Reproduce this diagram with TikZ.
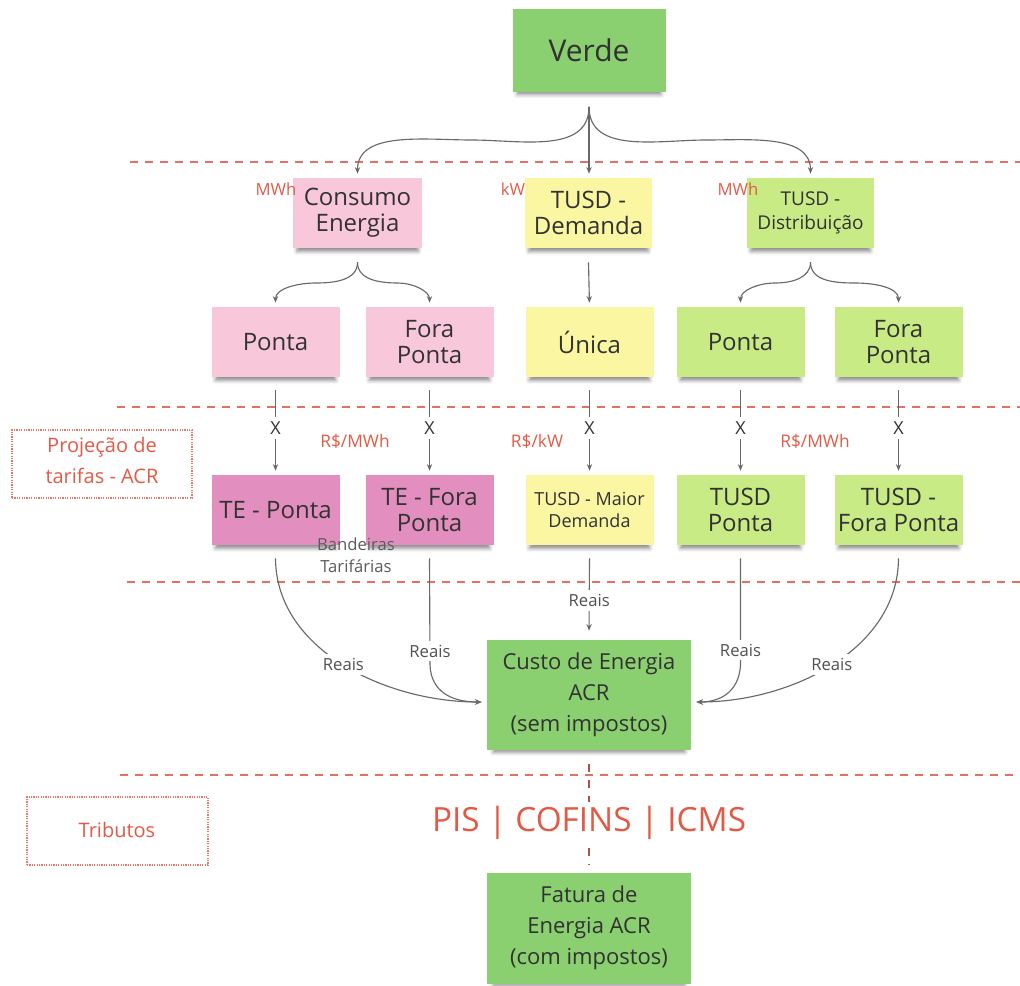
\documentclass[tikz,border=0pt]{standalone}
\usepackage{fontspec}
\setmainfont{Open Sans}
\usetikzlibrary{arrows.meta,shadows.blur,calc}

\definecolor{notegreen}{RGB}{138,207,112}
\definecolor{notepink}{RGB}{249,199,218}
\definecolor{notemagenta}{RGB}{226,142,190}
\definecolor{noteyellow}{RGB}{251,246,162}
\definecolor{notelime}{RGB}{200,235,134}
\definecolor{ink}{RGB}{50,50,50}
\definecolor{linegray}{RGB}{105,105,105}
\definecolor{accent}{RGB}{226,90,70}
\definecolor{dashred}{RGB}{228,112,98}
\definecolor{dotred}{RGB}{226,120,105}
\definecolor{taxdash}{RGB}{170,85,72}

\tikzset{
  note/.style={rectangle, align=center, inner sep=0pt, text=ink,
    blur shadow={shadow xshift=0pt, shadow yshift=-4.5pt, shadow opacity=45,
      shadow blur radius=3pt, shadow scale=0.94}},
  rowbox/.style={note, minimum width=96pt, minimum height=52.5pt,
    font=\fontsize{18}{19.5}\selectfont},
  bigbox/.style={note, fill=notegreen, minimum width=153pt, minimum height=82.5pt,
    font=\fontsize{16.5}{23.25}\selectfont},
  unit/.style={text=accent, inner sep=0pt, font=\fontsize{12.5}{14}\selectfont},
  rate/.style={text=accent, inner sep=0pt, font=\fontsize{13}{15}\selectfont},
  conn/.style={draw=linegray, line width=0.85pt, shorten >=3pt,
    -{Stealth[length=5pt,width=4pt]}},
  xmark/.style={fill=white, inner sep=3.5pt, text=ink, font=\fontsize{13.5}{15}\selectfont},
  reais/.style={fill=white, inner sep=3pt, text=ink!85, font=\fontsize{12.5}{14}\selectfont},
  divider/.style={draw=dashred, line width=1.6pt, dash pattern=on 6pt off 5.25pt},
  tagbox/.style={draw=dotred, line width=1pt, dash pattern=on 0.9pt off 0.9pt,
    minimum width=135pt, minimum height=51pt, inner sep=0pt},
  tagtext/.style={text=accent, align=center, inner sep=0pt,
    font=\fontsize{15}{23.25}\selectfont},
  taxline/.style={draw=taxdash, line width=1.2pt, dash pattern=on 6pt off 6pt},
}

\begin{document}
\begin{tikzpicture}[x=0.75pt,y=-0.75pt]
\useasboundingbox (0,0) rectangle (1020,985);

% section dividers
\draw[divider] (130,162) -- (1020,162);
\draw[divider] (117,407) -- (1020,407);
\draw[divider] (127,582) -- (1020,582);
\draw[divider] (120,775) -- (1020,775);

% tariff modality
\node[note, fill=notegreen, minimum width=114.75pt, minimum height=62.25pt,
      font=\fontsize{22.5}{24}\selectfont] (verde) at (589,50) {Verde};

% billed quantities
\node[rowbox, fill=notepink, minimum width=96.75pt] (consumo) at (357.5,213) {Consumo\\Energia};
\node[rowbox, fill=noteyellow, minimum width=95.25pt] (demanda) at (588.5,213) {TUSD -\\Demanda};
\node[rowbox, fill=notelime, minimum width=95.25pt, font=\fontsize{14.25}{18}\selectfont]
      (distrib) at (810.5,213) {TUSD -\\Distribuição};
\node[unit] (uConsumo) at (276,189) {MWh};
\node[unit] (uDemanda) at (513,189) {kW};
\node[unit] (uDistrib) at (738,189) {MWh};

% time-of-use periods
\node[rowbox, fill=notepink] (pontaA) at (275.5,342) {Ponta};
\node[rowbox, fill=notepink] (foraA) at (429.5,342) {Fora\\Ponta};
\node[rowbox, fill=noteyellow] (unica) at (589.5,342) {Única};
\node[rowbox, fill=notelime] (pontaB) at (740.5,342) {Ponta};
\node[rowbox, fill=notelime] (foraB) at (898.5,342) {Fora\\Ponta};

% tariffs
\node[rowbox, fill=notemagenta] (teP) at (275.5,510) {TE - Ponta};
\node[rowbox, fill=notemagenta] (teF) at (429.5,510) {TE - Fora\\Ponta};
\node[rowbox, fill=noteyellow, font=\fontsize{13.5}{16}\selectfont] (maior) at (589.5,510) {TUSD - Maior\\Demanda};
\node[rowbox, fill=notelime] (tusdP) at (740.5,510) {TUSD\\Ponta};
\node[rowbox, fill=notelime] (tusdF) at (898.5,510) {TUSD -\\Fora Ponta};
\node[rate] (rA) at (355,441) {R\$/MWh};
\node[rate] (rB) at (537,441) {R\$/kW};
\node[rate] (rC) at (815,441) {R\$/MWh};
\node[align=center, inner sep=0pt, text=ink!80, font=\fontsize{12.5}{16.5}\selectfont]
      (bandeiras) at (356,555) {Bandeiras\\Tarifárias};

% section tags
\node[tagbox] (projBox) at (102,464) {};
\node[tagtext] (projText) at (102,460) {Projeção de\\tarifas - ACR};
\node[tagbox, minimum width=135.75pt] (tribBox) at (117.5,831) {};
\node[tagtext] (tribText) at (117,830) {Tributos};

% cost and invoice
\node[bigbox] (custo) at (589,695) {Custo de Energia\\ACR\\(sem impostos)};
\node[bigbox, minimum height=83.25pt] (fatura) at (589,928) {Fatura de\\Energia ACR\\(com impostos)};
\node[text=accent, inner sep=0pt, font=\fontsize{25}{28}\selectfont] (taxes) at (589,823) {PIS | COFINS | ICMS};

% branches from the modality
\coordinate (vTip) at ($(verde.south)+(0,15)$);
\coordinate (vL) at (472,140);
\coordinate (vR) at (706,140);
\draw[conn] (vTip) -- (vTip |- demanda.north);
\draw[conn] (vTip) to[out=-90,in=0] (vL) to[out=180,in=90] (consumo.north);
\draw[conn] (vTip) to[out=-90,in=180] (vR) to[out=0,in=90] (distrib.north);

% branches into the periods
\coordinate (cTip) at ($(consumo.south)+(0,14)$);
\coordinate (cL) at (316,283);
\coordinate (cR) at (398,283);
\draw[conn] (cTip) to[out=-90,in=0] (cL) to[out=180,in=90] (pontaA.north);
\draw[conn] (cTip) to[out=-90,in=180] (cR) to[out=0,in=90] (foraA.north);
\draw[conn] ($(demanda.south)+(0,14)$) -- (unica.north);
\coordinate (dTip) at ($(distrib.south)+(0,14)$);
\coordinate (dL) at (775,283);
\coordinate (dR) at (855,283);
\draw[conn] (dTip) to[out=-90,in=0] (dL) to[out=180,in=90] (pontaB.north);
\draw[conn] (dTip) to[out=-90,in=180] (dR) to[out=0,in=90] (foraB.north);

% quantity times tariff
\draw[conn] ($(pontaA.south)+(0,13)$) -- node[xmark, pos=0.45] (x1) {X} (teP.north);
\draw[conn] ($(foraA.south)+(0,13)$) -- node[xmark, pos=0.45] (x2) {X} (teF.north);
\draw[conn] ($(unica.south)+(0,13)$) -- node[xmark, pos=0.45] (x3) {X} (maior.north);
\draw[conn] ($(pontaB.south)+(0,13)$) -- node[xmark, pos=0.45] (x4) {X} (tusdP.north);
\draw[conn] ($(foraB.south)+(0,13)$) -- node[xmark, pos=0.45] (x5) {X} (tusdF.north);

% tariff components into the cost
\coordinate (inL) at ($(custo.west)+(-1,7)$);
\coordinate (inR) at ($(custo.east)+(1,7)$);
\draw[conn] ($(teP.south)+(0,13)$) .. controls (276,650) and (386,702) ..
      node[reais, pos=0.5] (r1) {Reais} (inL);
\draw[conn] ($(teF.south)+(0,13)$) -- node[reais, pos=0.87] (r2) {Reais} (430,665)
      .. controls (431,692) and (452,702) .. (inL);
\draw[conn] ($(maior.south)+(0,13)$) -- node[reais, pos=0.55] (r3) {Reais} ($(custo.north)+(0,-5)$);
\draw[conn] ($(tusdP.south)+(0,13)$) -- node[reais, pos=0.86] (r4) {Reais} (740.5,665)
      .. controls (739,692) and (720,702) .. (inR);
\draw[conn] ($(tusdF.south)+(0,13)$) .. controls (898,650) and (790,702) ..
      node[reais, pos=0.5] (r5) {Reais} (inR);

% taxes applied to the cost
\draw[taxline] ($(custo.south)+(0,14)$) -- ($(taxes.north)+(0,-4)$);
\draw[taxline] ($(taxes.south)+(0,8)$) -- ($(fatura.north)+(0,-7)$);
\end{tikzpicture}
\end{document}
